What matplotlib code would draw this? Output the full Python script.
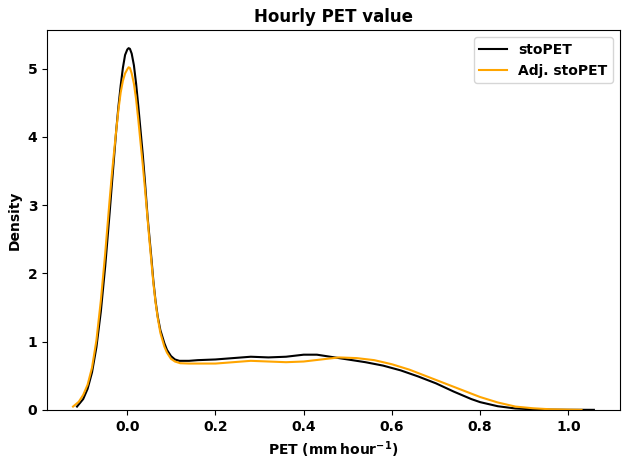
import matplotlib
matplotlib.use("Agg")
import matplotlib.pyplot as plt

plt.rcParams['font.weight'] = 'bold'
plt.rcParams['axes.labelweight'] = 'bold'
plt.rcParams['axes.titleweight'] = 'bold'

# stoPET density curve
sto_x = [-0.114, -0.100, -0.090, -0.080, -0.070, -0.060, -0.050, -0.040, -0.035, -0.030,
         -0.025, -0.020, -0.015, -0.010, -0.005, 0.000, 0.003, 0.006, 0.010, 0.015,
         0.020, 0.025, 0.030, 0.035, 0.040, 0.046, 0.050, 0.055, 0.059, 0.064,
         0.069, 0.075, 0.084, 0.090, 0.099, 0.108, 0.118, 0.140, 0.160, 0.200,
         0.240, 0.280, 0.320, 0.360, 0.400, 0.430, 0.460, 0.500, 0.540, 0.580,
         0.620, 0.660, 0.700, 0.740, 0.780, 0.800, 0.840, 0.880, 0.920, 0.960,
         1.000, 1.058]
sto_y = [0.05, 0.16, 0.31, 0.55, 0.92, 1.44, 2.11, 2.89, 3.30, 3.70,
         4.10, 4.45, 4.75, 5.01, 5.20, 5.28, 5.30, 5.29, 5.22, 5.05,
         4.78, 4.45, 4.10, 3.75, 3.35, 2.83, 2.55, 2.20, 1.90, 1.60,
         1.37, 1.17, 0.98, 0.88, 0.79, 0.74, 0.72, 0.72, 0.73, 0.74,
         0.76, 0.78, 0.77, 0.78, 0.81, 0.81, 0.78, 0.74, 0.70, 0.65,
         0.58, 0.49, 0.39, 0.27, 0.16, 0.115, 0.055, 0.022, 0.01, 0.005,
         0.003, 0.002]

# Adj. stoPET density curve
adj_x = [-0.123, -0.110, -0.100, -0.090, -0.080, -0.070, -0.060, -0.050, -0.040, -0.035,
         -0.030, -0.025, -0.020, -0.015, -0.010, -0.005, 0.000, 0.003, 0.006, 0.010,
         0.015, 0.020, 0.025, 0.030, 0.035, 0.040, 0.046, 0.050, 0.055, 0.059,
         0.064, 0.069, 0.075, 0.084, 0.090, 0.099, 0.108, 0.120, 0.140, 0.200,
         0.240, 0.280, 0.320, 0.360, 0.400, 0.440, 0.480, 0.520, 0.560, 0.600,
         0.640, 0.680, 0.720, 0.760, 0.800, 0.840, 0.880, 0.920, 0.960, 1.000,
         1.030]
adj_y = [0.05, 0.12, 0.22, 0.37, 0.62, 1.02, 1.60, 2.30, 3.08, 3.45,
         3.78, 4.10, 4.40, 4.65, 4.82, 4.93, 4.99, 5.02, 5.01, 4.93,
         4.78, 4.55, 4.25, 3.92, 3.60, 3.25, 2.80, 2.50, 2.15, 1.87,
         1.58, 1.35, 1.13, 0.93, 0.84, 0.75, 0.71, 0.685, 0.68, 0.68,
         0.70, 0.72, 0.71, 0.70, 0.71, 0.74, 0.77, 0.76, 0.73, 0.67,
         0.59, 0.49, 0.39, 0.29, 0.19, 0.11, 0.05, 0.025, 0.01, 0.005,
         0.002]

fig, ax = plt.subplots(figsize=(6.3, 4.7), dpi=100)
ax.plot(sto_x, sto_y, color='black', lw=1.5, label='stoPET')
ax.plot(adj_x, adj_y, color='orange', lw=1.5, label='Adj. stoPET')
ax.set_ylim(0, None)
ax.set_title('Hourly PET value')
ax.set_xlabel(r'PET ($\mathbf{mm\,hour^{-1}}$)')
ax.set_ylabel('Density')
ax.legend(loc='upper right')
fig.subplots_adjust(left=0.0746, right=0.984, top=0.936, bottom=0.1277)
fig.savefig('out.png', dpi=100)
